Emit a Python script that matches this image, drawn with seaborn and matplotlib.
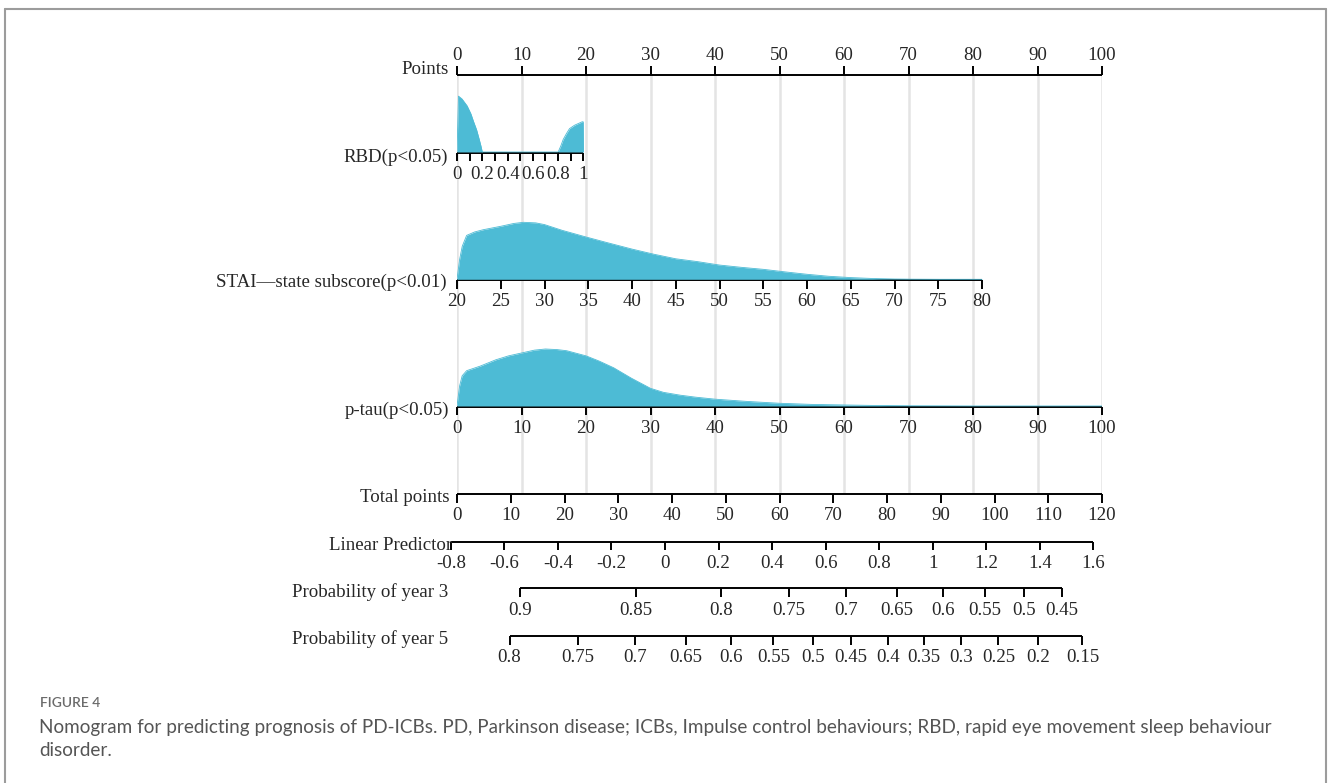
import numpy as np
import matplotlib
matplotlib.use("Agg")
import matplotlib.pyplot as plt
import seaborn as sns
from matplotlib.lines import Line2D

# ---- model / scale data ----
points_ticks = list(range(0, 101, 10))

rbd_ticks = [round(0.1 * i, 1) for i in range(11)]
rbd_labels = [0, 0.2, 0.4, 0.6, 0.8, 1]
rbd_max_points = 19.6

stai_ticks = list(range(20, 81, 5))
stai_max_points = 81.4

ptau_ticks = list(range(0, 101, 10))
ptau_max_points = 100.0

total_ticks = list(range(0, 121, 10))
total_max = 120

lp_ticks = [-0.8, -0.6, -0.4, -0.2, 0, 0.2, 0.4, 0.6, 0.8, 1, 1.2, 1.4, 1.6]
lp_at_zero_total = -0.777
lp_per_total_point = 0.02008

surv3_ticks = [0.9, 0.85, 0.8, 0.75, 0.7, 0.65, 0.6, 0.55, 0.5, 0.45]
surv5_ticks = [0.8, 0.75, 0.7, 0.65, 0.6, 0.55, 0.5, 0.45, 0.4, 0.35, 0.3, 0.25, 0.2, 0.15]
baseline_surv3 = 0.8344
baseline_surv5 = 0.6711

# density profiles (relative height)
rbd_x = [0, 0.012, 0.04, 0.08, 0.11, 0.13, 0.155, 0.176, 0.19, 0.2,
         0.8, 0.82, 0.84, 0.865, 0.89, 0.93, 0.96, 0.99, 0.998, 1.0]
rbd_d = [0, 0.98, 0.93, 0.81, 0.67, 0.54, 0.39, 0.22, 0.1, 0,
         0, 0.1, 0.22, 0.32, 0.41, 0.47, 0.5, 0.53, 0.53, 0]

stai_x = [20, 20.3, 20.6, 21.1, 22, 23, 25, 26.5, 27.6, 29, 30, 32, 34.8, 37, 40,
          42.5, 45, 47.5, 50, 52.5, 55, 57.5, 60, 62.5, 65, 67.5, 70, 72, 75, 80]
stai_d = [0, 0.35, 0.58, 0.77, 0.83, 0.87, 0.93, 0.98, 1.0, 0.99, 0.96, 0.86, 0.74,
          0.65, 0.53, 0.44, 0.36, 0.31, 0.25, 0.21, 0.175, 0.13, 0.088, 0.053,
          0.03, 0.014, 0.005, 0.002, 0, 0]

ptau_x = [0, 0.4, 0.8, 1.5, 3.6, 6, 8, 10, 12, 13.7, 15.5, 17, 20, 22, 24.3, 27,
          30, 32, 34.6, 37, 40, 45, 50, 55, 60, 65, 70, 80, 100]
ptau_d = [0, 0.35, 0.53, 0.62, 0.7, 0.81, 0.88, 0.93, 0.98, 1.0, 0.99, 0.97, 0.88,
          0.79, 0.67, 0.49, 0.31, 0.24, 0.19, 0.155, 0.12, 0.08, 0.048, 0.028,
          0.018, 0.009, 0.004, 0, 0]

row_labels = ["Points", "RBD(p<0.05)", "STAI\u2014state subscore(p<0.01)", "p-tau(p<0.05)",
              "Total points", "Linear Predictor", "Probability of year 3", "Probability of year 5"]


# ---- conversions to the points scale ----
def rbd_pts(v):
    return np.asarray(v, float) * rbd_max_points


def stai_pts(v):
    return (np.asarray(v, float) - 20) / 60 * stai_max_points


def ptau_pts(v):
    return np.asarray(v, float) / 100 * ptau_max_points


def total_pts(v):
    return np.asarray(v, float) * 100 / total_max


def lp_pts(v):
    return total_pts((np.asarray(v, float) - lp_at_zero_total) / lp_per_total_point)


def surv_pts(p, s0):
    p = np.asarray(p, float)
    return lp_pts(np.log(np.log(p) / np.log(s0)))


# ---- figure ----
sns.set_theme(style="white")
plt.rcParams["font.family"] = ["Liberation Serif", "DejaVu Serif"]

W, H = 1328, 783
fig = plt.figure(figsize=(W / 100, H / 100), dpi=100)
ax = fig.add_axes([457 / W, 0, 645 / W, 1])
ax.set_xlim(0, 100)
ax.set_ylim(H, 0)
ax.axis("off")

px_per_pt = 645 / 100


def px2pts(px):
    return (px - 457) / px_per_pt


fill_col = "#4DBBD5"
grid_col = "#e4e4e4"
fs = 13.6
lw = 1.4
tick_len = 8.5
dens_h = 57

y_points, y_rbd, y_stai, y_ptau = 74.5, 152.7, 280, 406.7
y_total, y_lp, y_s3, y_s5 = 494, 541.7, 588.3, 636

# vertical guide lines
ax.vlines(points_ticks, y_points, y_total, color=grid_col, lw=1.8, zorder=0)


def draw_scale(y, pos, labels, label_pos=None, up=False):
    pos = np.asarray(pos, float)
    ax.plot([pos.min(), pos.max()], [y, y], color="black", lw=lw,
            solid_capstyle="butt", zorder=3, clip_on=False)
    y2 = y - tick_len if up else y + tick_len
    ax.vlines(pos, y, y2, color="black", lw=lw, zorder=3, clip_on=False)
    if label_pos is None:
        label_pos = pos
    ly = y - 19 if up else y + 22
    for xp, lab in zip(label_pos, labels):
        ax.text(xp, ly, lab, ha="center", va="center", fontsize=fs, clip_on=False)


def draw_density(xs, ds, y):
    xs = np.asarray(xs, float)
    top = y - 0.7 - np.asarray(ds, float) * dens_h
    ax.fill_between(xs, y - 0.7, top, color=fill_col, lw=0, zorder=4)
    sns.lineplot(x=xs, y=top, ax=ax, color=fill_col, lw=0.6, zorder=4,
                 sort=False, estimator=None)


fmt = lambda v: "%g" % v

draw_scale(y_points, points_ticks, [fmt(v) for v in points_ticks], up=True)

draw_scale(y_rbd, rbd_pts(rbd_ticks), [fmt(v) for v in rbd_labels], label_pos=rbd_pts(rbd_labels))
draw_density(rbd_pts(rbd_x), rbd_d, y_rbd)

draw_scale(y_stai, stai_pts(stai_ticks), [fmt(v) for v in stai_ticks])
draw_density(stai_pts(stai_x), stai_d, y_stai)

draw_scale(y_ptau, ptau_pts(ptau_ticks), [fmt(v) for v in ptau_ticks])
draw_density(ptau_pts(ptau_x), ptau_d, y_ptau)

draw_scale(y_total, total_pts(total_ticks), [fmt(v) for v in total_ticks])
draw_scale(y_lp, lp_pts(lp_ticks), [fmt(v) for v in lp_ticks])
draw_scale(y_s3, surv_pts(surv3_ticks, baseline_surv3), [fmt(v) for v in surv3_ticks])
draw_scale(y_s5, surv_pts(surv5_ticks, baseline_surv5), [fmt(v) for v in surv5_ticks])

# row labels
label_y = [69.5, 157.5, 282, 410, 497.5, 545.5, 592, 639.5]
label_x = [449, 448, 447, 449, 449, 452, 448, 448]
for lab, yy, xx in zip(row_labels, label_y, label_x):
    ax.text(px2pts(xx), yy, lab, ha="right", va="center", fontsize=fs, clip_on=False)

# caption and frame
cap_font = ["Lato", "DejaVu Sans"]
fig.text(40 / W, 1 - 703 / H, "FIGURE 4", fontsize=10, color="#6b6b6b",
         family=cap_font, va="center", fontweight="semibold")
fig.text(39 / W, 1 - 727 / H,
         "Nomogram for predicting prognosis of PD-ICBs. PD, Parkinson disease; ICBs, Impulse control "
         "behaviours; RBD, rapid eye movement sleep behaviour",
         fontsize=13.6, color="#555555", family=cap_font, va="center")
fig.text(39 / W, 1 - 750 / H, "disorder.", fontsize=13.6, color="#555555",
         family=cap_font, va="center")

frame_col = "#9c9c9c"
for xs, ys in [([4.5, 1326], [8.5, 8.5]), ([4.5, 4.5], [8.5, H]), ([1326, 1326], [8.5, H])]:
    fig.add_artist(Line2D([x / W for x in xs], [1 - y / H for y in ys],
                          color=frame_col, lw=1.5, transform=fig.transFigure))

fig.savefig("out.png", dpi=100, facecolor="white")
